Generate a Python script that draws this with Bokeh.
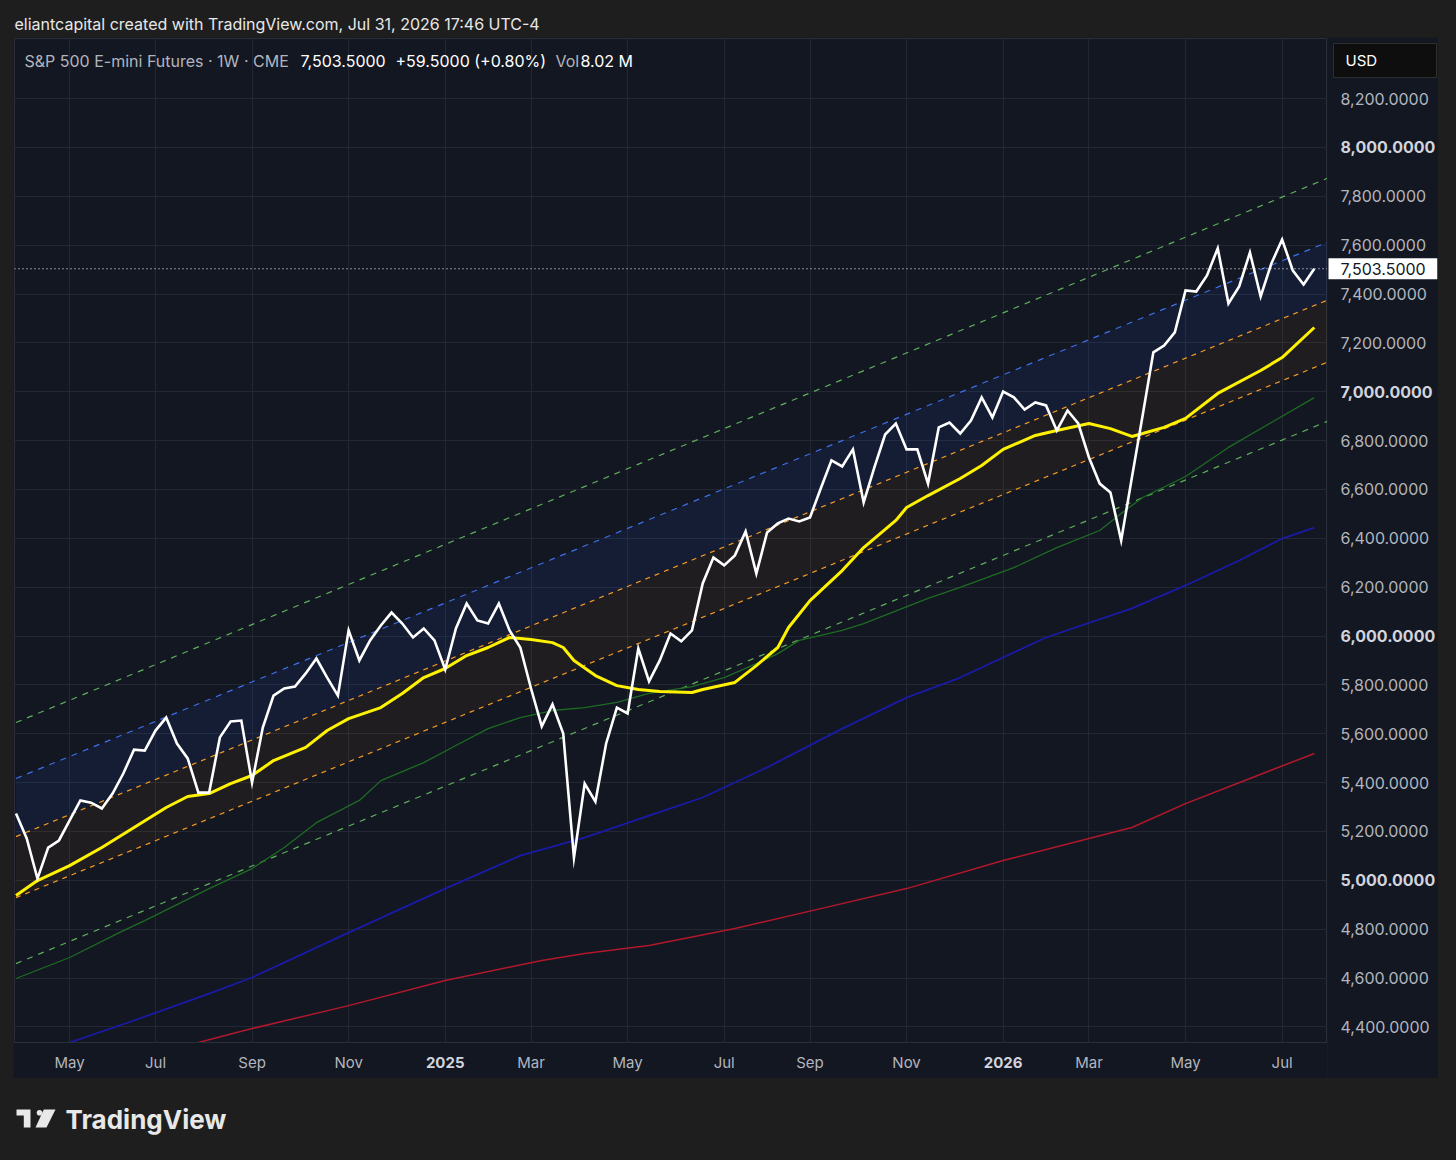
import pandas as pd
from bokeh.plotting import figure
from bokeh.models import Range1d, FixedTicker, Label, Span, LinearAxis, GlobalInlineStyleSheet
from bokeh.layouts import column, row
from bokeh.embed import file_html
from bokeh.resources import INLINE
from bokeh.core.properties import value

# ---------------- data ----------------
START = "2024-04-01"          # first weekly bar
TITLE = "eliantcapital created with TradingView.com, Jul 31, 2026 17:46 UTC-4"

close = [5273, 5171, 5007, 5134, 5163, 5245, 5327, 5318, 5294, 5355,
         5437, 5535, 5531, 5613, 5666, 5560, 5499, 5359, 5359, 5585,
         5650, 5654, 5400, 5625, 5756, 5785, 5793, 5847, 5908, 5830,
         5756, 6023, 5900, 5982, 6043, 6096, 6051, 5994, 6031, 5982,
         5863, 6031, 6133, 6064, 6051, 6133, 6023, 5953, 5785, 5630,
         5720, 5601, 5093, 5396, 5322, 5560, 5707, 5683, 5949, 5814,
         5900, 6010, 5978, 6023, 6215, 6321, 6289, 6330, 6428, 6256,
         6424, 6461, 6481, 6469, 6485, 6604, 6719, 6694, 6764, 6547,
         6690, 6825, 6870, 6764, 6764, 6624, 6854, 6874, 6829, 6882,
         6977, 6895, 7001, 6977, 6927, 6956, 6944, 6841, 6923, 6870,
         6731, 6624, 6588, 6391, 6649, 6903, 7161, 7189, 7243, 7415,
         7410, 7476, 7587, 7361, 7431, 7570, 7390, 7525, 7623, 7496,
         7439, 7503.5]

# yellow moving average (week index, value)
ema_idx = [0, 2, 5, 8, 11, 14, 16, 18, 20, 22, 24, 27, 29, 31, 34, 36, 38, 40,
           42, 44, 46, 48, 50, 51, 52, 54, 56, 58, 60, 63, 64, 67, 69, 71, 72,
           74, 77, 79, 82, 83, 85, 88, 90, 92, 95, 97, 100, 102, 104, 105, 107,
           109, 112, 116, 118, 121]
ema_val = [4938, 4999, 5060, 5134, 5216, 5298, 5343, 5355, 5396, 5429, 5490,
           5544, 5613, 5662, 5707, 5765, 5830, 5867, 5920, 5953, 5994, 5986,
           5973, 5953, 5900, 5838, 5797, 5781, 5773, 5769, 5781, 5810, 5879,
           5953, 6035, 6145, 6268, 6362, 6473, 6526, 6575, 6645, 6698, 6764,
           6821, 6841, 6870, 6849, 6817, 6829, 6854, 6891, 6993, 7087, 7140,
           7263]

# thin green moving average
ma_g_idx = [0, 5, 10, 12, 18, 22, 25, 28, 32, 34, 38, 41, 44, 47, 50, 53, 56,
            59, 63, 66, 69, 71, 73, 77, 79, 85, 88, 93, 97, 101, 103, 105, 109,
            113, 117, 121]
ma_g_val = [4598, 4684, 4794, 4835, 4966, 5048, 5134, 5236, 5327, 5408, 5482,
            5552, 5621, 5666, 5695, 5707, 5728, 5765, 5793, 5830, 5887, 5928,
            5982, 6023, 6051, 6154, 6199, 6280, 6362, 6432, 6502, 6567, 6653,
            6772, 6874, 6976]

# dark blue moving average
ma_b_idx = [5, 11, 18, 22, 31, 40, 47, 53, 59, 64, 70, 77, 83, 88, 96, 104,
            109, 114, 118, 121]
ma_b_val = [4336, 4426, 4536, 4602, 4786, 4966, 5101, 5175, 5265, 5339, 5462,
            5621, 5748, 5830, 5994, 6113, 6207, 6309, 6399, 6444]

# red moving average
ma_r_idx = [17, 22, 31, 40, 49, 53, 59, 67, 75, 83, 92, 100, 104, 109, 115, 121]
ma_r_val = [4336, 4393, 4487, 4590, 4672, 4700, 4733, 4803, 4884, 4966, 5081,
            5171, 5216, 5314, 5417, 5519]

# regression channel (start / end of each line)
chan_idx = [0, 123]
chan_up2 = [5646, 7888]
chan_up1 = [5417, 7626]
chan_hi = [5179, 7389]
chan_lo = [4929, 7135]
chan_dn = [4659, 6893]

LAST = 7503.5
LAST_TEXT = "7,503.5000"
month_dates = ["2024-05-06", "2024-07-01", "2024-09-02", "2024-11-04",
               "2025-01-06", "2025-03-03", "2025-05-05", "2025-07-07",
               "2025-09-01", "2025-11-03", "2026-01-05", "2026-03-02",
               "2026-05-04", "2026-07-06"]
month_labels = ["May", "Jul", "Sep", "Nov", "2025", "Mar", "May", "Jul",
                "Sep", "Nov", "2026", "Mar", "May", "Jul"]
bold_months = ["2025", "2026"]
price_ticks = [4400, 4600, 4800, 5000, 5200, 5400, 5600, 5800, 6000, 6200,
               6400, 6600, 6800, 7000, 7200, 7400, 7600, 7800, 8000, 8200]
bold_prices = [5000, 6000, 7000, 8000]

# ---------------- styling ----------------
OUTER = "#1e1e1e"
PANEL = "#131722"
GRID = "#232733"
SEP = "#2a2e39"
AXTXT = "#b2b5be"
BOLDTXT = "#d1d4dc"
FONT = "Inter"

WEEK = 7 * 24 * 3600 * 1000
T0 = pd.Timestamp(START).value // 10**6


def wk(i):
    return T0 + i * WEEK


def ms(d):
    return pd.Timestamp(d).value // 10**6


x_close = [wk(i) for i in range(len(close))]

# ---------------- header ----------------
head = figure(width=1456, height=37, x_range=Range1d(0, 1456), y_range=Range1d(0, 37),
              x_axis_location=None, y_axis_location=None, output_backend="svg",
              toolbar_location=None, min_border=0, outline_line_color=None,
              background_fill_color=OUTER, border_fill_color=OUTER)
head.xgrid.visible = False
head.ygrid.visible = False
head.text(x=[14], y=[14], text=[TITLE], text_color="#e8e8e8", text_font=value(FONT),
          text_font_size="16px", text_baseline="middle", text_align="left")

# ---------------- main chart ----------------
yr = Range1d(4336, 8446)
p = figure(frame_width=1313, frame_height=1004,
           x_range=Range1d(wk(-0.14), wk(122.23)), y_range=yr,
           y_axis_location=None, output_backend="svg", toolbar_location=None,
           min_border_left=1, min_border_top=1, min_border_right=0, min_border_bottom=36,
           background_fill_color=PANEL, border_fill_color=PANEL,
           outline_line_color=SEP)
p.margin = (0, 0, 0, 13)

xt = [ms(d) for d in month_dates]
year_ticks = [t for t, l in zip(xt, month_labels) if l in bold_months]
mon_ticks = [t for t, l in zip(xt, month_labels) if l not in bold_months]

# inner axis: bold year labels
ax_y = p.xaxis[0]
ax_y.ticker = FixedTicker(ticks=year_ticks)
ax_y.major_label_overrides = {t: l for t, l in zip(xt, month_labels) if l in bold_months}
ax_y.major_label_text_font_style = "bold"
ax_y.major_label_text_color = BOLDTXT
# outer axis: month labels, pulled back onto the same row
ax_m = LinearAxis(ticker=FixedTicker(ticks=mon_ticks),
                  major_label_overrides={t: l for t, l in zip(xt, month_labels) if l not in bold_months})
ax_m.major_label_text_color = AXTXT
ax_m.major_label_standoff = -24
ax_m.axis_line_color = None
p.add_layout(ax_m, "below")
for ax in (ax_y, ax_m):
    ax.major_tick_line_color = None
    ax.minor_tick_line_color = None
    ax.major_label_text_font = FONT
    ax.major_label_text_font_size = "15px"
ax_y.axis_line_color = SEP
ax_y.major_label_standoff = 8

p.xgrid.ticker = FixedTicker(ticks=xt)
p.ygrid.ticker = FixedTicker(ticks=price_ticks)
p.grid.grid_line_color = GRID

xc = [wk(i) for i in chan_idx]
p.varea(x=xc, y1=chan_up1, y2=chan_hi, fill_color="#2962ff", fill_alpha=0.09)
p.varea(x=xc, y1=chan_hi, y2=chan_lo, fill_color="#ff9800", fill_alpha=0.05)
p.line(xc, chan_up2, line_color="#5fae5c", line_width=1.2, line_dash="6 6")
p.line(xc, chan_dn, line_color="#5fae5c", line_width=1.2, line_dash="6 6")
p.line(xc, chan_up1, line_color="#3d6fe8", line_width=1.2, line_dash="6 6")
p.line(xc, chan_hi, line_color="#f59a23", line_width=1.2, line_dash="5 5")
p.line(xc, chan_lo, line_color="#f59a23", line_width=1.2, line_dash="5 5")

p.line([wk(i) for i in ma_r_idx], ma_r_val, line_color="#b2182b", line_width=1.5)
p.line([wk(i) for i in ma_b_idx], ma_b_val, line_color="#1a1aa6", line_width=1.8)
p.line([wk(i) for i in ma_g_idx], ma_g_val, line_color="#1e6b23", line_width=1.3)
p.line([wk(i) for i in ema_idx], ema_val, line_color="#fff200", line_width=3)
p.line(x_close, close, line_color="white", line_width=2.6, line_join="miter")

p.add_layout(Span(location=LAST, dimension="width", line_color="white",
                  line_width=1, line_dash="1 3"))

# legend line (inside the frame)
LY = 982
legend_parts = [(10, "S&P 500 E-mini Futures · 1W · CME", AXTXT),
                (286, "7,503.5000", "#ffffff"),
                (381, "+59.5000 (+0.80%)", "#ffffff"),
                (541, "Vol", AXTXT),
                (566, "8.02 M", "#ffffff")]
for x, t, c in legend_parts:
    p.add_layout(Label(x=x, y=LY, x_units="screen", y_units="screen", text=t,
                       text_font=FONT, text_font_size="16px", text_color=c,
                       text_align="left", text_baseline="middle"))

# ---------------- price scale column (shares the y scale) ----------------
side = figure(frame_width=110, frame_height=1004, x_range=Range1d(0, 110), y_range=yr,
              x_axis_location=None, y_axis_location=None, output_backend="svg",
              toolbar_location=None, min_border_left=0, min_border_top=1,
              min_border_right=1, min_border_bottom=36,
              background_fill_color=PANEL, border_fill_color=PANEL, outline_line_color=None)
side.xgrid.visible = False
side.ygrid.visible = False
side.extra_y_ranges = {"px": Range1d(0, 1004)}

norm_ticks = [v for v in price_ticks if v not in bold_prices]
side.text(x=[13] * len(norm_ticks), y=norm_ticks, text=[f"{v:,.4f}" for v in norm_ticks],
          text_color=AXTXT, text_font=value(FONT), text_font_size="16px",
          text_baseline="middle", text_align="left")
side.text(x=[13] * len(bold_prices), y=bold_prices, text=[f"{v:,.4f}" for v in bold_prices],
          text_color=BOLDTXT, text_font=value(FONT), text_font_size="16px",
          text_font_style="bold", text_baseline="middle", text_align="left")

# last-price tag
side.rect(x=[55.5], y=[LAST], width=109, height=21, height_units="screen",
          fill_color="#ffffff", line_color=None)
side.text(x=[13], y=[LAST], text=[LAST_TEXT], text_color="#131722", text_font=value(FONT),
          text_font_size="16px", text_baseline="middle", text_align="left")

# currency box
side.quad(left=[6], right=[109], top=[999], bottom=[965], y_range_name="px",
          fill_color="#0e0e0e", line_color="#2e2e2e", line_width=1)
side.text(x=[18], y=[982], text=["USD"], y_range_name="px", text_color="#ffffff",
          text_font=value(FONT), text_font_size="15px", text_baseline="middle",
          text_align="left")

# ---------------- footer ----------------
FH = 81
foot = figure(width=1456, height=FH, x_range=Range1d(0, 1456), y_range=Range1d(0, FH),
              x_axis_location=None, y_axis_location=None, output_backend="svg",
              toolbar_location=None, min_border=0, outline_line_color=None,
              background_fill_color=OUTER, border_fill_color=OUTER)
foot.xgrid.visible = False
foot.ygrid.visible = False
LOGO_T = ([16, 30, 30, 23.3, 23.3, 16], [50, 50, 32, 32, 44, 44])
LOGO_SLASH = ([43.3, 55, 46, 35], [50, 50, 32, 32])
foot.patch(LOGO_T[0], LOGO_T[1], fill_color="#e8e8e8", line_color=None)
foot.patch(LOGO_SLASH[0], LOGO_SLASH[1], fill_color="#e8e8e8", line_color=None)
foot.circle(x=[39], y=[46.7], radius=2.8, fill_color="#e8e8e8", line_color=None)
foot.text(x=[65], y=[40], text=["TradingView"], text_color="#e8e8e8", text_font=value(FONT),
          text_font_size="26px", text_font_style="bold", text_baseline="middle", text_align="left")

layout = column(head, row(p, side, spacing=0), foot, spacing=0,
                stylesheets=[GlobalInlineStyleSheet(
                    css="html, body { margin: 0; padding: 0; background: #1e1e1e; }")])

open("out.html", "w").write(file_html(layout, INLINE))
